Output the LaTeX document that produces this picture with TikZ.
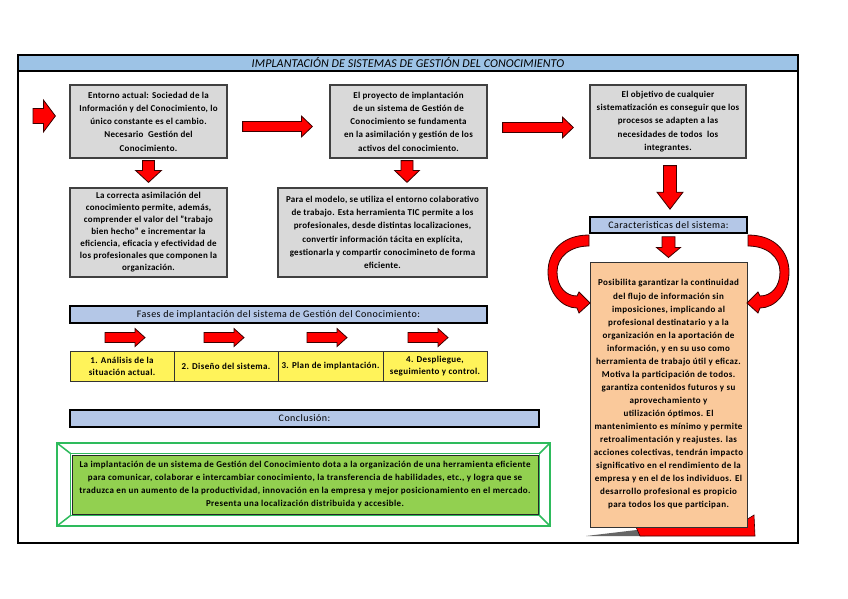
\documentclass[tikz,border=0pt]{standalone}
\usepackage{fontspec}
\setmainfont{Carlito}
\usetikzlibrary{calc}
\definecolor{titleblue}{HTML}{9DC3E6}
\definecolor{barblue}{HTML}{B4C7E7}
\definecolor{boxgray}{HTML}{D9D9D9}
\definecolor{orangebox}{HTML}{FAC99B}
\definecolor{phaseyellow}{HTML}{FFF35A}
\definecolor{greenfill}{HTML}{92D050}
\definecolor{greenline}{HTML}{2EBB5C}
\definecolor{arrowred}{HTML}{FF0000}
\definecolor{arrowedge}{HTML}{3A0000}
\newcommand\harrow[5]{\filldraw[barrow] let \p1=(#1), \p2=(#2) in
  (\x1,\y1+#3) -- (\x2-#5,\y1+#3) -- (\x2-#5,\y1+#4) -- (\x2,\y1) --
  (\x2-#5,\y1-#4) -- (\x2-#5,\y1-#3) -- (\x1,\y1-#3) -- cycle;}
\newcommand\varrow[5]{\filldraw[barrow] let \p1=(#1), \p2=(#2) in
  (\x1-#3,\y1) -- (\x1-#3,\y2+#5) -- (\x1-#4,\y2+#5) -- (\x1,\y2) --
  (\x1+#4,\y2+#5) -- (\x1+#3,\y2+#5) -- (\x1+#3,\y1) -- cycle;}
\newcommand\boxfont[2]{\fontsize{#1}{#2}\selectfont\bfseries\addfontfeature{LetterSpace=3}}
\begin{document}
\begin{tikzpicture}[x=1pt,y=1pt,
  barrow/.style={fill=arrowred, draw=arrowedge, line width=0.8pt, line join=miter},
  gbox/.style={draw=black!75, line width=1.2pt, fill=boxgray, inner sep=1pt, align=center,
    font=\boxfont{9}{13.3}},
  bluebar/.style={draw=black, line width=1.6pt, fill=barblue, inner sep=0pt,
    font=\fontsize{10}{12}\selectfont\addfontfeature{LetterSpace=4.5}},
  phasebox/.style={draw=black!80, line width=0.9pt, fill=phaseyellow, inner sep=1pt, align=center,
    minimum height=30pt, font=\fontsize{9}{12}\selectfont\bfseries\addfontfeature{LetterSpace=4}},
  glines/.style={draw=greenline, line width=1.5pt}
]
\useasboundingbox (0,0) rectangle (848,-599);
\fill[white] (0,0) rectangle (848,-599);

% outer frame and title
\draw[line width=1.6pt] (18,-55) rectangle (798,-543);
\node[draw=black, line width=1.2pt, fill=titleblue, minimum width=780pt, minimum height=16pt,
  inner sep=0pt, font=\fontsize{12}{14}\selectfont\itshape\addfontfeature{LetterSpace=1}] (title) at (408,-63)
  {IMPLANTACIÓN DE SISTEMAS DE GESTIÓN DEL CONOCIMIENTO};

% top row boxes
\node[gbox, minimum width=157pt, minimum height=73pt] (b1) at (148.5,-121.5)
  {Entorno actual: Sociedad de la\\Información y del Conocimiento, lo\\único constante es el cambio.\\Necesario\ \ Gestión del\\Conocimiento.};
\node[gbox, minimum width=157pt, minimum height=73pt] (b2) at (408.5,-121.5)
  {El proyecto de implantación\\de un sistema de Gestión de\\Conocimiento se fundamenta\\en la asimilación y gestión de los\\activos del conocimiento.};
\node[gbox, minimum width=156pt, minimum height=73pt] (b3) at (668,-121.5)
  {El objetivo de cualquier\\sistematización es conseguir que los\\procesos se adapten a las\\necesidades de todos\ \ los\\integrantes.};

% second row boxes
\node[gbox, minimum width=157pt, minimum height=89pt, font=\boxfont{9}{12}] (b4) at (148.5,-232.5)
  {La correcta asimilación del\\conocimiento permite, además,\\comprender el valor del "trabajo\\bien hecho" e incrementar la\\eficiencia, eficacia y efectividad de\\los profesionales que componen la\\organización.};
\node[gbox, minimum width=209pt, minimum height=89pt] (b5) at (382.5,-232.5)
  {Para el modelo, se utiliza el entorno colaborativo\\de trabajo. Esta herramienta TIC permite a los\\profesionales, desde distintas localizaciones,\\convertir información tácita en explícita,\\gestionarla y compartir conocimineto de forma\\eficiente.};

% arrows top row
\coordinate (entry) at (33,-116);
\harrow{entry}{$(b1.west)+(-14,5.5)$}{7.5pt}{16pt}{12pt}
\harrow{$(b1.east)+(15,-5)$}{$(b2.west)+(-17,-5)$}{5pt}{10.5pt}{11pt}
\harrow{$(b2.east)+(15,-6)$}{$(b3.west)+(-16,-6)$}{5pt}{10.5pt}{11pt}
\varrow{$(b1.south)+(0,-2)$}{$(b4.north)+(0,5)$}{6pt}{13pt}{12pt}
\varrow{$(b2.south)+(-1.5,-2)$}{$(b5.north)+(0,5)$}{6pt}{12.5pt}{12pt}

% characteristics
\node[bluebar, minimum width=157pt, minimum height=16pt] (car) at (668.5,-225) {Caracteristicas del sistema:};
\varrow{$(b3.south)+(2,-7)$}{$(car.north)+(0,7)$}{6.5pt}{13pt}{17pt}

% shadow behind orange box
\fill[black!60] (586,-536) -- (645,-529) -- (645,-536) -- cycle;
\filldraw[fill=arrowred, draw=arrowedge, line width=0.6pt] (636,-527) -- (746,-520) -- (754,-515) -- (755,-536) -- (640,-536) -- cycle;
\node[draw=black!80, line width=1pt, fill=orangebox, minimum width=157pt, minimum height=265pt,
  inner sep=1pt, align=center, font=\fontsize{9}{13.06}\selectfont\bfseries\addfontfeature{LetterSpace=4.5}] (ob) at (668.5,-394.5)
  {Posibilita garantizar la continuidad\\del flujo de información sin\\imposiciones, implicando al\\profesional destinatario y a la\\organización en la aportación de\\información, y en su uso como\\herramienta de trabajo útil y eficaz.\\Motiva la participación de todos.\\garantiza contenidos futuros y su\\aprovechamiento y\\utilización óptimos. El\\mantenimiento es mínimo y permite\\retroalimentación y reajustes. las\\acciones colectivas, tendrán impacto\\significativo en el rendimiento de la\\empresa y en el de los individuos. El\\desarrollo profesional es propicio\\para todos los que participan.};
\varrow{$(car.south)+(0,-3)$}{$(ob.north)+(0,4)$}{6.5pt}{12pt}{10pt}

% curved arrows
\filldraw[barrow] (589,-235) .. controls (562,-235) and (548,-252) .. (548,-272)
  .. controls (548,-293) and (562,-308) .. (577,-308) -- (579,-313) -- (590,-303) -- (579,-292) -- (577,-296)
  .. controls (566,-296) and (557,-287) .. (557,-272)
  .. controls (557,-257) and (570,-246) .. (589,-246) -- cycle;
\filldraw[barrow] (748,-235) .. controls (775,-235) and (789,-252) .. (789,-272)
  .. controls (789,-293) and (775,-308) .. (760,-308) -- (758,-313) -- (747,-303) -- (758,-292) -- (760,-296)
  .. controls (771,-296) and (780,-287) .. (780,-272)
  .. controls (780,-257) and (767,-246) .. (748,-246) -- cycle;

% phases
\node[bluebar, minimum width=417pt, minimum height=17pt] (fases) at (278.5,-314.5)
  {Fases de implantación del sistema de Gestión del Conocimiento:};
\node[phasebox, minimum width=104pt] (p1) at (122,-366) {1. Análisis de la\\situación actual.};
\node[phasebox, minimum width=104pt] (p2) at (226,-366) {2. Diseño del sistema.};
\node[phasebox, minimum width=105pt] (p3) at (330.5,-366) {3. Plan de implantación.};
\node[phasebox, minimum width=104pt] (p4) at (435,-366) {4. Despliegue,\\seguimiento y control.};
\harrow{$(p1.north)+(-17,13)$}{$(p1.north)+(23,13)$}{5pt}{9pt}{10pt}
\harrow{$(p2.north)+(-22,13)$}{$(p2.north)+(18,13)$}{5pt}{9pt}{10pt}
\harrow{$(p3.north)+(-23.5,13)$}{$(p3.north)+(16.5,13)$}{5pt}{9pt}{10pt}
\harrow{$(p4.north)+(-27,13)$}{$(p4.north)+(13,13)$}{5pt}{9pt}{10pt}

% conclusion
\node[bluebar, minimum width=469pt, minimum height=17pt] (concl) at (304.5,-418.5) {Conclusión:};
\draw[glines] (57,-443) rectangle (550,-526);
\draw[glines] (70.5,-453.5) rectangle (539.5,-515.5);
\draw[glines] (57,-443) -- (70.5,-453.5);
\draw[glines] (550,-443) -- (539.5,-453.5);
\draw[glines] (57,-526) -- (70.5,-515.5);
\draw[glines] (550,-526) -- (539.5,-515.5);
\node[draw=black!85, line width=1pt, fill=greenfill, minimum width=466pt, minimum height=59pt,
  inner sep=1pt, align=center, font=\fontsize{9}{13.3}\selectfont\bfseries\addfontfeature{LetterSpace=4.3}] (gin) at (305,-484.5)
  {La implantación de un sistema de Gestión del Conocimiento dota a la organización de una herramienta eficiente\\para comunicar, colaborar e intercambiar conocimiento, la transferencia de habilidades, etc., y logra que se\\traduzca en un aumento de la productividad, innovación en la empresa y mejor posicionamiento en el mercado.\\Presenta una localización distribuida y accesible.};
\end{tikzpicture}
\end{document}
